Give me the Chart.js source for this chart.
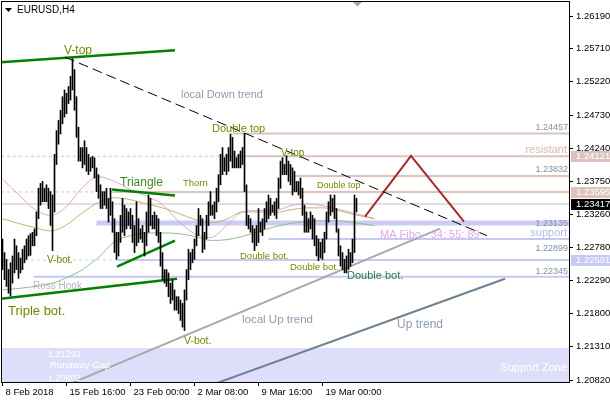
<!DOCTYPE html>
<html>
<head>
<meta charset="utf-8">
<script src="https://cdn.jsdelivr.net/npm/chart.js@4/dist/chart.umd.min.js"></script>
<style>
html, body { margin: 0; padding: 0; background: #fff; }
canvas { display: block; }
</style>
</head>
<body>
<canvas id="canvasGeo" width="610" height="400"></canvas>
<script>
// EURUSD H4, barras desde 8 Feb 08:00 hasta 21 Mar 20:00 (indice = numero de barra)
const maximos = [
  1.2290, 1.2270, 1.2260, 1.2245,
  1.2255, 1.2265, 1.2290, 1.2280, 1.2270, 1.2262,
  1.2275, 1.2280, 1.2290, 1.2295, 1.2298, 1.2300,
  1.2305, 1.2330, 1.2365, 1.2372, 1.2375, 1.2365,
  1.2370, 1.2365, 1.2360, 1.2355, 1.2415, 1.2450,
  1.2465, 1.2480, 1.2500, 1.2510, 1.2505, 1.2515,
  1.2530, 1.2556, 1.2540, 1.2500, 1.2455, 1.2425,
  1.2425, 1.2435, 1.2425, 1.2415, 1.2410, 1.2412,
  1.2410, 1.2395, 1.2385, 1.2370, 1.2360, 1.2360,
  1.2365, 1.2350, 1.2365, 1.2345, 1.2320, 1.2300,
  1.2300, 1.2325, 1.2350, 1.2340, 1.2335, 1.2330,
  1.2335, 1.2325, 1.2310, 1.2345, 1.2320, 1.2305,
  1.2310, 1.2300, 1.2330, 1.2355, 1.2350, 1.2325,
  1.2330, 1.2325, 1.2320, 1.2300, 1.2270, 1.2245,
  1.2245, 1.2240, 1.2225, 1.2230, 1.2215, 1.2205,
  1.2205, 1.2200, 1.2195, 1.2215, 1.2245, 1.2275,
  1.2270, 1.2275, 1.2290, 1.2310, 1.2335, 1.2325,
  1.2320, 1.2300, 1.2325, 1.2345, 1.2360, 1.2340,
  1.2345, 1.2365, 1.2385, 1.2415, 1.2425, 1.2410,
  1.2415, 1.2425, 1.2445, 1.2440, 1.2420, 1.2410,
  1.2415, 1.2420, 1.2425, 1.2446, 1.2370, 1.2325,
  1.2320, 1.2310, 1.2305, 1.2310, 1.2335, 1.2315,
  1.2320, 1.2335, 1.2345, 1.2355, 1.2350, 1.2340,
  1.2345, 1.2350, 1.2380, 1.2405, 1.2410, 1.2400,
  1.2413, 1.2405, 1.2400, 1.2395, 1.2390, 1.2375,
  1.2375, 1.2380, 1.2365, 1.2340, 1.2330, 1.2320,
  1.2330, 1.2325, 1.2320, 1.2295, 1.2290, 1.2285,
  1.2290, 1.2300, 1.2330, 1.2345, 1.2355, 1.2350,
  1.2355, 1.2335, 1.2305, 1.2280, 1.2270, 1.2260,
  1.2265, 1.2275, 1.2270, 1.2290, 1.2355, 1.2350
];
const minimos = [
  1.2245, 1.2230, 1.2220, 1.2210,
  1.2206, 1.2225, 1.2240, 1.2245, 1.2232, 1.2240,
  1.2245, 1.2255, 1.2260, 1.2265, 1.2266, 1.2280,
  1.2280, 1.2295, 1.2320, 1.2340, 1.2345, 1.2345,
  1.2345, 1.2335, 1.2310, 1.2273, 1.2330, 1.2400,
  1.2430, 1.2445, 1.2460, 1.2470, 1.2475, 1.2490,
  1.2495, 1.2510, 1.2480, 1.2440, 1.2405, 1.2405,
  1.2395, 1.2400, 1.2390, 1.2385, 1.2390, 1.2395,
  1.2380, 1.2360, 1.2350, 1.2335, 1.2335, 1.2340,
  1.2335, 1.2315, 1.2325, 1.2300, 1.2270, 1.2260,
  1.2265, 1.2285, 1.2300, 1.2295, 1.2305, 1.2310,
  1.2305, 1.2285, 1.2270, 1.2280, 1.2285, 1.2290,
  1.2285, 1.2265, 1.2280, 1.2300, 1.2310, 1.2305,
  1.2305, 1.2295, 1.2285, 1.2250, 1.2230, 1.2225,
  1.2220, 1.2205, 1.2195, 1.2200, 1.2185, 1.2185,
  1.2180, 1.2170, 1.2160, 1.2155, 1.2200, 1.2230,
  1.2245, 1.2255, 1.2260, 1.2280, 1.2295, 1.2310,
  1.2270, 1.2275, 1.2290, 1.2310, 1.2325, 1.2325,
  1.2320, 1.2330, 1.2345, 1.2370, 1.2385, 1.2390,
  1.2385, 1.2390, 1.2405, 1.2395, 1.2395, 1.2395,
  1.2395, 1.2395, 1.2400, 1.2360, 1.2310, 1.2305,
  1.2300, 1.2285, 1.2273, 1.2280, 1.2285, 1.2300,
  1.2295, 1.2305, 1.2315, 1.2320, 1.2325, 1.2330,
  1.2325, 1.2320, 1.2335, 1.2365, 1.2385, 1.2385,
  1.2385, 1.2375, 1.2370, 1.2355, 1.2360, 1.2360,
  1.2355, 1.2350, 1.2325, 1.2300, 1.2300, 1.2300,
  1.2305, 1.2290, 1.2280, 1.2265, 1.2258, 1.2262,
  1.2260, 1.2270, 1.2290, 1.2315, 1.2325, 1.2330,
  1.2320, 1.2300, 1.2265, 1.2250, 1.2245, 1.2240,
  1.2240, 1.2245, 1.2250, 1.2255, 1.2270, 1.2330
];

// medias moviles (MA Fibo 34 / 55 / 89), leidas cada 8 barras
const maBarras = [0, 8, 16, 24, 32, 40, 48, 56, 64, 72, 80, 88, 96, 104, 112, 120, 128, 136, 144, 152, 160, 168, 176, 186];
const ma34 = [1.2378, 1.2356, 1.2334, 1.2325, 1.2338, 1.2366, 1.2382, 1.2375, 1.2363, 1.2353, 1.2341, 1.2316, 1.2298, 1.2292, 1.2310, 1.2330, 1.2332, 1.2332, 1.2339, 1.2342, 1.2339, 1.2334, 1.2328, 1.2320];
const ma55 = [1.2320, 1.2313, 1.2307, 1.2302, 1.2311, 1.2329, 1.2344, 1.2351, 1.2348, 1.2342, 1.2336, 1.2328, 1.2319, 1.2314, 1.2319, 1.2330, 1.2330, 1.2329, 1.2333, 1.2336, 1.2336, 1.2332, 1.2326, 1.2320];
const ma89 = [1.2215, 1.2217, 1.2220, 1.2224, 1.2233, 1.2245, 1.2263, 1.2286, 1.2295, 1.2299, 1.2299, 1.2298, 1.2294, 1.2288, 1.2289, 1.2294, 1.2301, 1.2308, 1.2313, 1.2316, 1.2317, 1.2317, 1.2314, 1.2310];

// eje de precios y de tiempo
const yTicks = [1.26190, 1.25710, 1.25220, 1.24730, 1.24240, 1.23750, 1.23260, 1.22780, 1.22290, 1.21800, 1.21310, 1.20820];
const xTickBarras = [0, 32, 64, 96, 128, 160];
const xTickTextos = ['8 Feb 2018', '15 Feb 16:00', '23 Feb 00:00', '2 Mar 08:00', '9 Mar 16:00', '19 Mar 00:00'];

// niveles horizontales: precio y barra donde empiezan
const nivelesRosa = [[1.24457, 115], [1.24121, 111], [1.23832, 145], [1.23595, 55]];
const nivelesAzul = [[1.22899, 133], [1.22591, 57.5], [1.22345, 15.5]];
const nivelesGuion = [[1.24121, '#dcc4bd'], [1.23595, '#dcc4bd'], [1.22591, '#c8c8f4']];
const precioActual = 1.23417;
const bandaSoporte = [1.23135, 47];
const zonaSoporte = 1.21293;

// lineas de tendencia [barra, precio]
const lineaVtop = [[-0.75, 1.25510], [86.25, 1.25687]];
const lineaTripleBot = [[-0.75, 1.22019], [87.25, 1.22314]];
const trianguloSup = [[54.75, 1.23631], [86.25, 1.23542]];
const trianguloInf = [[57.25, 1.22492], [86.25, 1.22876]];
const tendenciaBajista = [[31.25, 1.25584], [242.25, 1.22950]];
const tendenciaLocalAlcista = [[34.75, 1.20776], [218.75, 1.23054]];
const tendenciaAlcista = [[107.25, 1.20776], [251.25, 1.22314]];
const proyeccion = [[181.25, 1.23231], [204.25, 1.24126], [230.75, 1.23157]];

const X_MIN = -0.75, X_MAX = 283.25;
const Y_MIN = 1.20791, Y_MAX = 1.26412;
const FUENTE = "'Liberation Sans', Arial, sans-serif";

const pts = (arr) => arr.map(p => ({ x: p[0], y: p[1] }));

function linea(datos, color, ancho, extra) {
    return Object.assign({
        type: 'line', data: pts(datos), borderColor: color, borderWidth: ancho,
        pointRadius: 0, fill: false, order: 5
    }, extra || {});
}

const datasets = [];

// velas (barras high-low)
datasets.push({
    type: 'bar',
    data: maximos.map((h, i) => ({ x: i, y: [minimos[i], h] })),
    backgroundColor: '#000000',
    borderWidth: 0,
    barThickness: 1,
    order: 1
});

// niveles
nivelesGuion.forEach(n => datasets.push(linea([[X_MIN, n[0]], [X_MAX, n[0]]], n[1], 1, { borderDash: [3, 3], order: 9 })));
nivelesRosa.forEach(n => datasets.push(linea([[n[1], n[0]], [X_MAX, n[0]]], '#dcc4bd', 2, { order: 8 })));
nivelesAzul.forEach(n => datasets.push(linea([[n[1], n[0]], [X_MAX, n[0]]], '#c8c8f4', 2, { order: 8 })));
datasets.push(linea([[bandaSoporte[1], bandaSoporte[0]], [X_MAX, bandaSoporte[0]]], '#ccccf6', 5, { order: 8 }));
datasets.push(linea([[X_MIN, precioActual], [X_MAX, precioActual]], '#c0c0c0', 1, { order: 8 }));

// medias
const mas = [[ma89, '#8fbc8f'], [ma55, '#bdb76b'], [ma34, '#dda0dd']];
mas.forEach(m => datasets.push({
    type: 'line',
    data: m[0].map((v, k) => ({ x: maBarras[k], y: v })),
    borderColor: m[1], borderWidth: 1, pointRadius: 0, fill: false,
    cubicInterpolationMode: 'monotone', order: 7
}));

// tendencias
datasets.push(linea(tendenciaBajista, '#000000', 1, { borderDash: [10, 5], order: 4 }));
datasets.push(linea(tendenciaLocalAlcista, '#a9a9a9', 2, { order: 4 }));
datasets.push(linea(tendenciaAlcista, '#708090', 2, { order: 4 }));
datasets.push(linea(lineaVtop, '#008000', 2.5, { order: 4 }));
datasets.push(linea(lineaTripleBot, '#008000', 2.5, { order: 4 }));
datasets.push(linea(trianguloSup, '#008000', 2.5, { order: 4 }));
datasets.push(linea(trianguloInf, '#008000', 2.5, { order: 4 }));
datasets.push(linea(proyeccion, '#a52a2a', 2, { order: 4 }));

// textos de la grafica (pixeles)
const textos = [
    ['V-top', 64, 54, 12, '#6f8a00'],
    ['local Down trend', 181, 98, 11, '#8d9bb2'],
    ['Double top', 212, 132, 11, '#6f8a00'],
    ['V-top', 281, 156, 10, '#6f8a00'],
    ['Double top', 317, 188, 9, '#6f8a00'],
    ['Thorn', 183, 186, 9.5, '#6f8a00'],
    ['Triangle', 120, 186, 12, '#3e8a20'],
    ['V-bot.', 47, 263, 10, '#6f8a00'],
    ['Ross Hook', 33, 289, 10, '#b4b4b4'],
    ['Triple bot.', 8, 315, 13, '#6f8a00'],
    ['V-bot.', 184, 344, 10.5, '#6f8a00'],
    ['local Up trend', 242, 323, 11.5, '#8d9bb2'],
    ['Up trend', 397, 328, 12, '#8d9bb2'],
    ['Double bot.', 240, 259, 9.5, '#6f8a00'],
    ['Double bot.', 290, 270, 9.5, '#6f8a00'],
    ['Double bot.', 347, 279, 11, '#2f7a40'],
    ['MA Fibo - 34; 55; 89', 380, 238, 11, '#e4a8e4'],
    ['1.21293', 48, 357, 9, '#ffffff'],
    ['Runaway Gap', 50, 368, 9.5, '#ffffff'],
    ['1.20802', 48, 381, 9, '#ffffff']
];
const textosDerecha = [
    ['resistant', 567, 153, 11, '#d8b8b0'],
    ['support', 567, 236, 11, '#b8b8f0'],
    ['1.24457', 568, 130, 9, '#8090a8'],
    ['1.23832', 568, 172, 9, '#8090a8'],
    ['1.23135', 568, 226, 9, '#8090a8'],
    ['1.22899', 568, 251, 9, '#8090a8'],
    ['1.22345', 568, 274, 9, '#8090a8'],
    ['Support Zone', 567, 371, 11, '#ffffff']
];
// etiquetas de precio sobre el eje
const cajasEje = [[1.24121, '#dcc4bd', '#ffffff'], [1.23595, '#dcc4bd', '#ffffff'], [precioActual, '#000000', '#ffffff'], [1.22591, '#c8c8f4', '#ffffff']];

const extras = {
    id: 'extras',
    beforeDatasetsDraw(chart) {
        const { ctx, chartArea: a, scales: { y } } = chart;
        ctx.save();
        ctx.fillStyle = '#dedefa';
        const yz = y.getPixelForValue(zonaSoporte);
        ctx.fillRect(a.left, yz, a.right - a.left, a.bottom - yz);
        ctx.restore();
    },
    afterDatasetsDraw(chart) {
        const { ctx, chartArea: a } = chart;
        ctx.save();
        ctx.textBaseline = 'alphabetic';
        textos.forEach(t => {
            ctx.font = t[3] + 'px ' + FUENTE;
            ctx.fillStyle = t[4];
            ctx.textAlign = 'left';
            ctx.fillText(t[0], t[1], t[2]);
        });
        textosDerecha.forEach(t => {
            ctx.font = t[3] + 'px ' + FUENTE;
            ctx.fillStyle = t[4];
            ctx.textAlign = 'right';
            ctx.fillText(t[0], t[1], t[2]);
        });
        // titulo
        ctx.fillStyle = '#000';
        ctx.beginPath();
        ctx.moveTo(5, 8); ctx.lineTo(12, 8); ctx.lineTo(8.5, 12); ctx.closePath(); ctx.fill();
        ctx.font = '10px ' + FUENTE;
        ctx.textAlign = 'left';
        ctx.fillText('EURUSD,H4', 17, 13);
        // marca de desplazamiento
        ctx.fillStyle = '#a8a8a8';
        ctx.beginPath();
        ctx.moveTo(353, 2); ctx.lineTo(362, 2); ctx.lineTo(357.5, 6.5); ctx.closePath(); ctx.fill();
        // marco
        ctx.strokeStyle = '#000';
        ctx.lineWidth = 1;
        ctx.strokeRect(a.left + 0.5, a.top + 0.5, a.right - a.left, a.bottom - a.top);
        ctx.restore();
    },
    afterDraw(chart) {
        const { ctx, chartArea: a, scales: { y } } = chart;
        ctx.save();
        ctx.font = '9.5px ' + FUENTE;
        ctx.textBaseline = 'middle';
        ctx.textAlign = 'left';
        cajasEje.forEach(c => {
            const py = Math.round(y.getPixelForValue(c[0]));
            ctx.fillStyle = c[1];
            ctx.fillRect(a.right + 2, py - 5, 610 - a.right - 2, 11);
            ctx.fillStyle = c[2];
            ctx.fillText(c[0].toFixed(5), 576, py + 0.5);
        });
        ctx.restore();
    }
};

new Chart(document.getElementById('canvasGeo').getContext('2d'), {
    type: 'bar',
    data: { datasets: datasets },
    plugins: [extras],
    options: {
        responsive: false,
        animation: false,
        events: [],
        layout: { padding: { left: 1, top: 1, right: 0, bottom: 0 } },
        plugins: { legend: { display: false }, tooltip: { enabled: false } },
        scales: {
            x: {
                type: 'linear', min: X_MIN, max: X_MAX, offset: false,
                afterBuildTicks: (ax) => { ax.ticks = xTickBarras.map(v => ({ value: v })); },
                afterFit: (ax) => { ax.height = 18; ax.paddingLeft = 0; ax.paddingRight = 0; },
                ticks: {
                    autoSkip: false, maxRotation: 0, align: 'start', labelOffset: 3, padding: 1,
                    color: '#000', font: { family: FUENTE, size: 9.5 },
                    callback: (v) => xTickTextos[xTickBarras.indexOf(v)]
                },
                grid: { offset: false, drawOnChartArea: false, drawTicks: true, tickLength: 4, color: '#000' },
                border: { display: true, color: '#000' }
            },
            y: {
                position: 'right', min: Y_MIN, max: Y_MAX,
                afterBuildTicks: (ax) => { ax.ticks = yTicks.map(v => ({ value: v })); },
                afterFit: (ax) => { ax.width = 41; ax.paddingTop = 0; ax.paddingBottom = 0; },
                ticks: {
                    autoSkip: false, padding: 3, color: '#000',
                    font: { family: FUENTE, size: 9.5 },
                    callback: (v) => v.toFixed(5)
                },
                grid: { drawOnChartArea: false, drawTicks: true, tickLength: 4, color: '#000' },
                border: { display: true, color: '#000' }
            }
        }
    }
});
</script>
</body>
</html>
